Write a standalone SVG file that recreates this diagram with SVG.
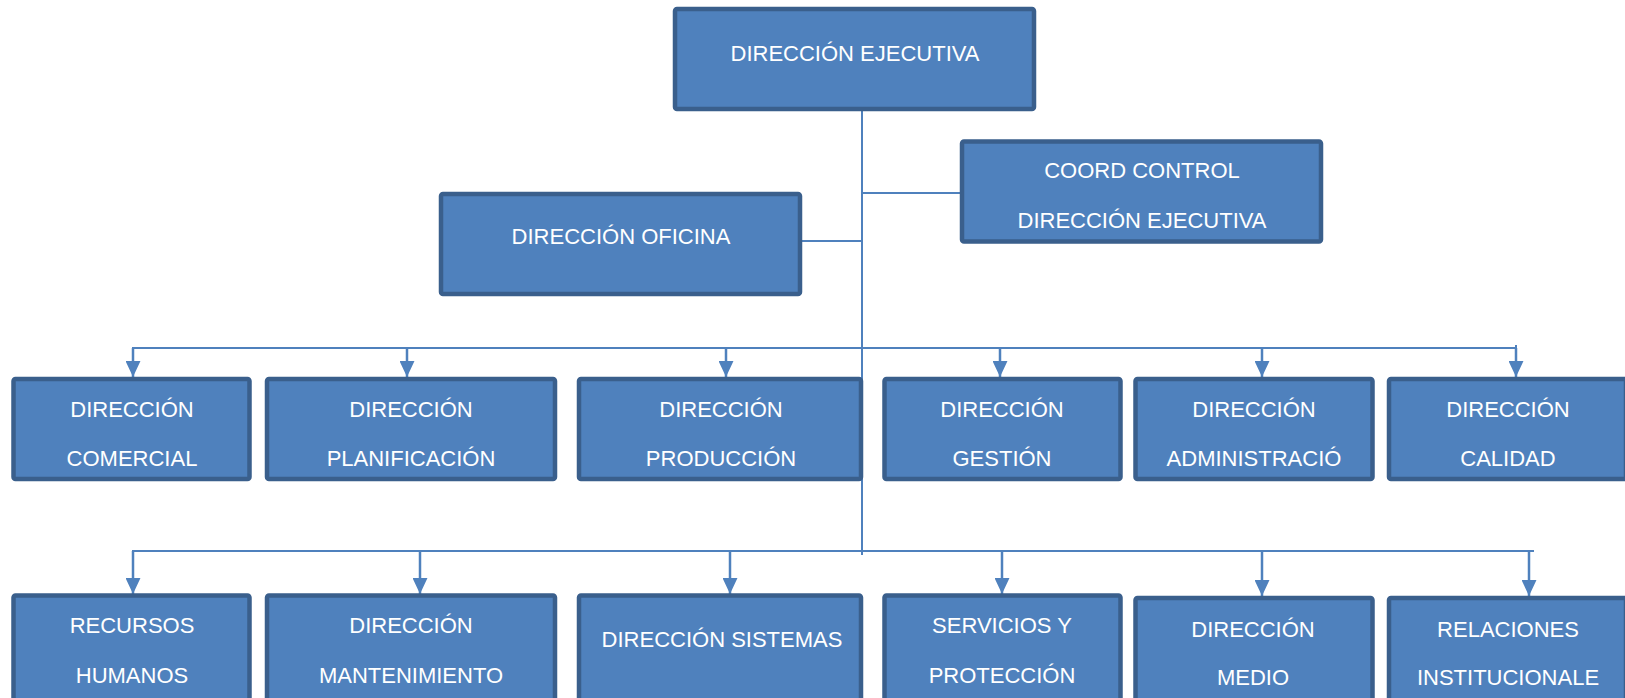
<svg xmlns="http://www.w3.org/2000/svg" width="1625" height="698" viewBox="0 0 1625 698">
<style>
.box{fill:#4F81BD;stroke:#3A5F8C;stroke-width:4.5}
.t{font-family:"Liberation Sans",Arial,sans-serif;font-size:22px;fill:#FFFFFF;text-anchor:middle}
.ln{stroke:#4F81BD;stroke-width:2;fill:none}
.ar{stroke:#4F81BD;stroke-width:2.5;fill:none;marker-end:url(#arr)}
</style>
<defs>
<marker id="arr" markerUnits="userSpaceOnUse" markerWidth="16" markerHeight="15" viewBox="0 0 15 14" refX="15" refY="7" orient="auto">
<path d="M0,0 L15,7 L0,14 z" fill="#4F81BD"/>
</marker>
</defs>
<rect width="1625" height="698" fill="#FFFFFF"/>
<g id="connectors">
<line class="ln" x1="862" y1="110" x2="862" y2="555"/>
<line class="ln" x1="801" y1="241" x2="862" y2="241"/>
<line class="ln" x1="862" y1="193" x2="961" y2="193"/>
<line class="ln" x1="132" y1="348" x2="1517" y2="348"/>
<line class="ln" x1="1516" y1="345" x2="1516" y2="349"/>
<path class="ar" d="M133,348 V377"/>
<path class="ar" d="M407,348 V377"/>
<path class="ar" d="M726,348 V377"/>
<path class="ar" d="M1000,348 V377"/>
<path class="ar" d="M1262,348 V377"/>
<path class="ar" d="M1516,348 V377"/>
<line class="ln" x1="132" y1="551" x2="1534" y2="551"/>
<path class="ar" d="M133,551 V594"/>
<path class="ar" d="M420,551 V594"/>
<path class="ar" d="M730,551 V594"/>
<path class="ar" d="M1002,551 V594"/>
<path class="ar" d="M1262,551 V596"/>
<path class="ar" d="M1529,551 V596"/>
</g>
<g id="n-ejecutiva"><rect class="box" x="675" y="9" width="359" height="100" rx="2"/><text class="t" x="855" y="61">DIRECCIÓN EJECUTIVA</text></g>
<g id="n-oficina"><rect class="box" x="441" y="194" width="359" height="100" rx="2"/><text class="t" x="621" y="244">DIRECCIÓN OFICINA</text></g>
<g id="n-coord"><rect class="box" x="962" y="141.5" width="359" height="100" rx="2"/><text class="t" x="1142" y="178">COORD CONTROL</text><text class="t" x="1142" y="228">DIRECCIÓN EJECUTIVA</text></g>
<g id="n-comercial"><rect class="box" x="13.5" y="379" width="236" height="100" rx="2"/><text class="t" x="132" y="417">DIRECCIÓN</text><text class="t" x="132" y="466">COMERCIAL</text></g>
<g id="n-planificacion"><rect class="box" x="267" y="379" width="288" height="100" rx="2"/><text class="t" x="411" y="417">DIRECCIÓN</text><text class="t" x="411" y="466">PLANIFICACIÓN</text></g>
<g id="n-produccion"><rect class="box" x="579" y="379" width="282" height="100" rx="2"/><text class="t" x="721" y="417">DIRECCIÓN</text><text class="t" x="721" y="466">PRODUCCIÓN</text></g>
<g id="n-gestion"><rect class="box" x="884.5" y="379" width="236" height="100" rx="2"/><text class="t" x="1002" y="417">DIRECCIÓN</text><text class="t" x="1002" y="466">GESTIÓN</text></g>
<g id="n-administracion"><rect class="box" x="1135.5" y="379" width="237" height="100" rx="2"/><text class="t" x="1254" y="417">DIRECCIÓN</text><text class="t" x="1254" y="466">ADMINISTRACIÓ</text></g>
<g id="n-calidad"><rect class="box" x="1389" y="379" width="237" height="100" rx="2"/><text class="t" x="1508" y="417">DIRECCIÓN</text><text class="t" x="1508" y="466">CALIDAD</text></g>
<g id="n-rrhh"><rect class="box" x="13.5" y="595.5" width="236" height="110" rx="2"/><text class="t" x="132" y="633">RECURSOS</text><text class="t" x="132" y="683">HUMANOS</text></g>
<g id="n-mantenimiento"><rect class="box" x="267" y="595.5" width="288" height="110" rx="2"/><text class="t" x="411" y="633">DIRECCIÓN</text><text class="t" x="411" y="683">MANTENIMIENTO</text></g>
<g id="n-sistemas"><rect class="box" x="579" y="595.5" width="282" height="110" rx="2"/><text class="t" x="722" y="647">DIRECCIÓN SISTEMAS</text></g>
<g id="n-servicios"><rect class="box" x="884.5" y="595.5" width="236" height="110" rx="2"/><text class="t" x="1002" y="633">SERVICIOS Y</text><text class="t" x="1002" y="683">PROTECCIÓN</text></g>
<g id="n-medio"><rect class="box" x="1135.5" y="598" width="237" height="110" rx="2"/><text class="t" x="1253" y="637">DIRECCIÓN</text><text class="t" x="1253" y="685">MEDIO</text></g>
<g id="n-relaciones"><rect class="box" x="1389" y="598" width="237" height="110" rx="2"/><text class="t" x="1508" y="637">RELACIONES</text><text class="t" x="1508" y="685">INSTITUCIONALE</text></g>
</svg>
